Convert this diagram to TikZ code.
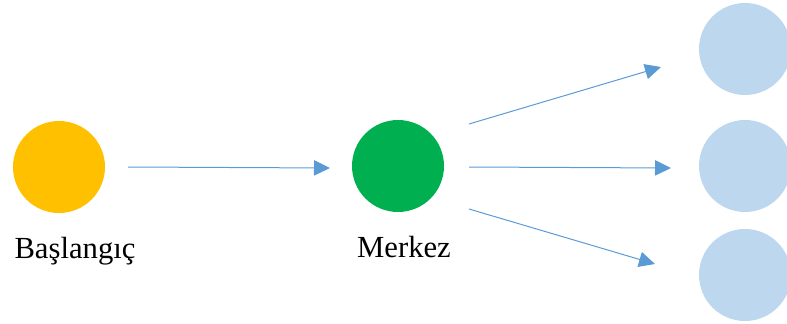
\documentclass[tikz,border=0pt]{standalone}
\usepackage{fontspec}
\setmainfont{Liberation Serif}
\usepackage{tikz}
\usetikzlibrary{arrows.meta}
\definecolor{baslangic}{HTML}{FFC000}
\definecolor{merkez}{HTML}{00B050}
\definecolor{hedef}{HTML}{BDD7EE}
\definecolor{okrengi}{HTML}{5B9BD5}
\tikzset{
	nokta/.style={circle, inner sep=0pt, minimum size=69pt},
	ok/.style={okrengi, line width=0.75pt, -{Triangle[length=12pt,width=11.5pt]}},
	etiket/.style={anchor=base, font=\fontsize{23}{27}\selectfont}
}

\begin{document}
\begin{tikzpicture}[x=0.75pt,y=-0.75pt]
			\useasboundingbox (0,0) rectangle (787,324);
			\clip (0,0) rectangle (787,324);
			\node[nokta, fill=baslangic] (bas) at (59,167) {};
			\node[nokta, fill=merkez] (mrk) at (398,166) {};
			\node[nokta, fill=hedef] (h1) at (745,49) {};
			\node[nokta, fill=hedef] (h2) at (745,166) {};
			\node[nokta, fill=hedef] (h3) at (745,275) {};
			\node[etiket] (bas-ad) at (75,258) {Başlangıç};
			\node[etiket] (mrk-ad) at (404,257) {Merkez};
			% ok uclari
			\coordinate (b0) at (128,167);
			\coordinate (b1) at (330,168);
			\coordinate (m1) at (469,124);
			\coordinate (u1) at (661,67);
			\coordinate (m2) at (469,167);
			\coordinate (u2) at (671,168);
			\coordinate (m3) at (469,209);
			\coordinate (u3) at (655,264);
			\draw [ok] (b0) -- (b1);
			\draw [ok] (m1) -- (u1);
			\draw [ok] (m2) -- (u2);
			\draw [ok] (m3) -- (u3);
		\end{tikzpicture}
\end{document}
